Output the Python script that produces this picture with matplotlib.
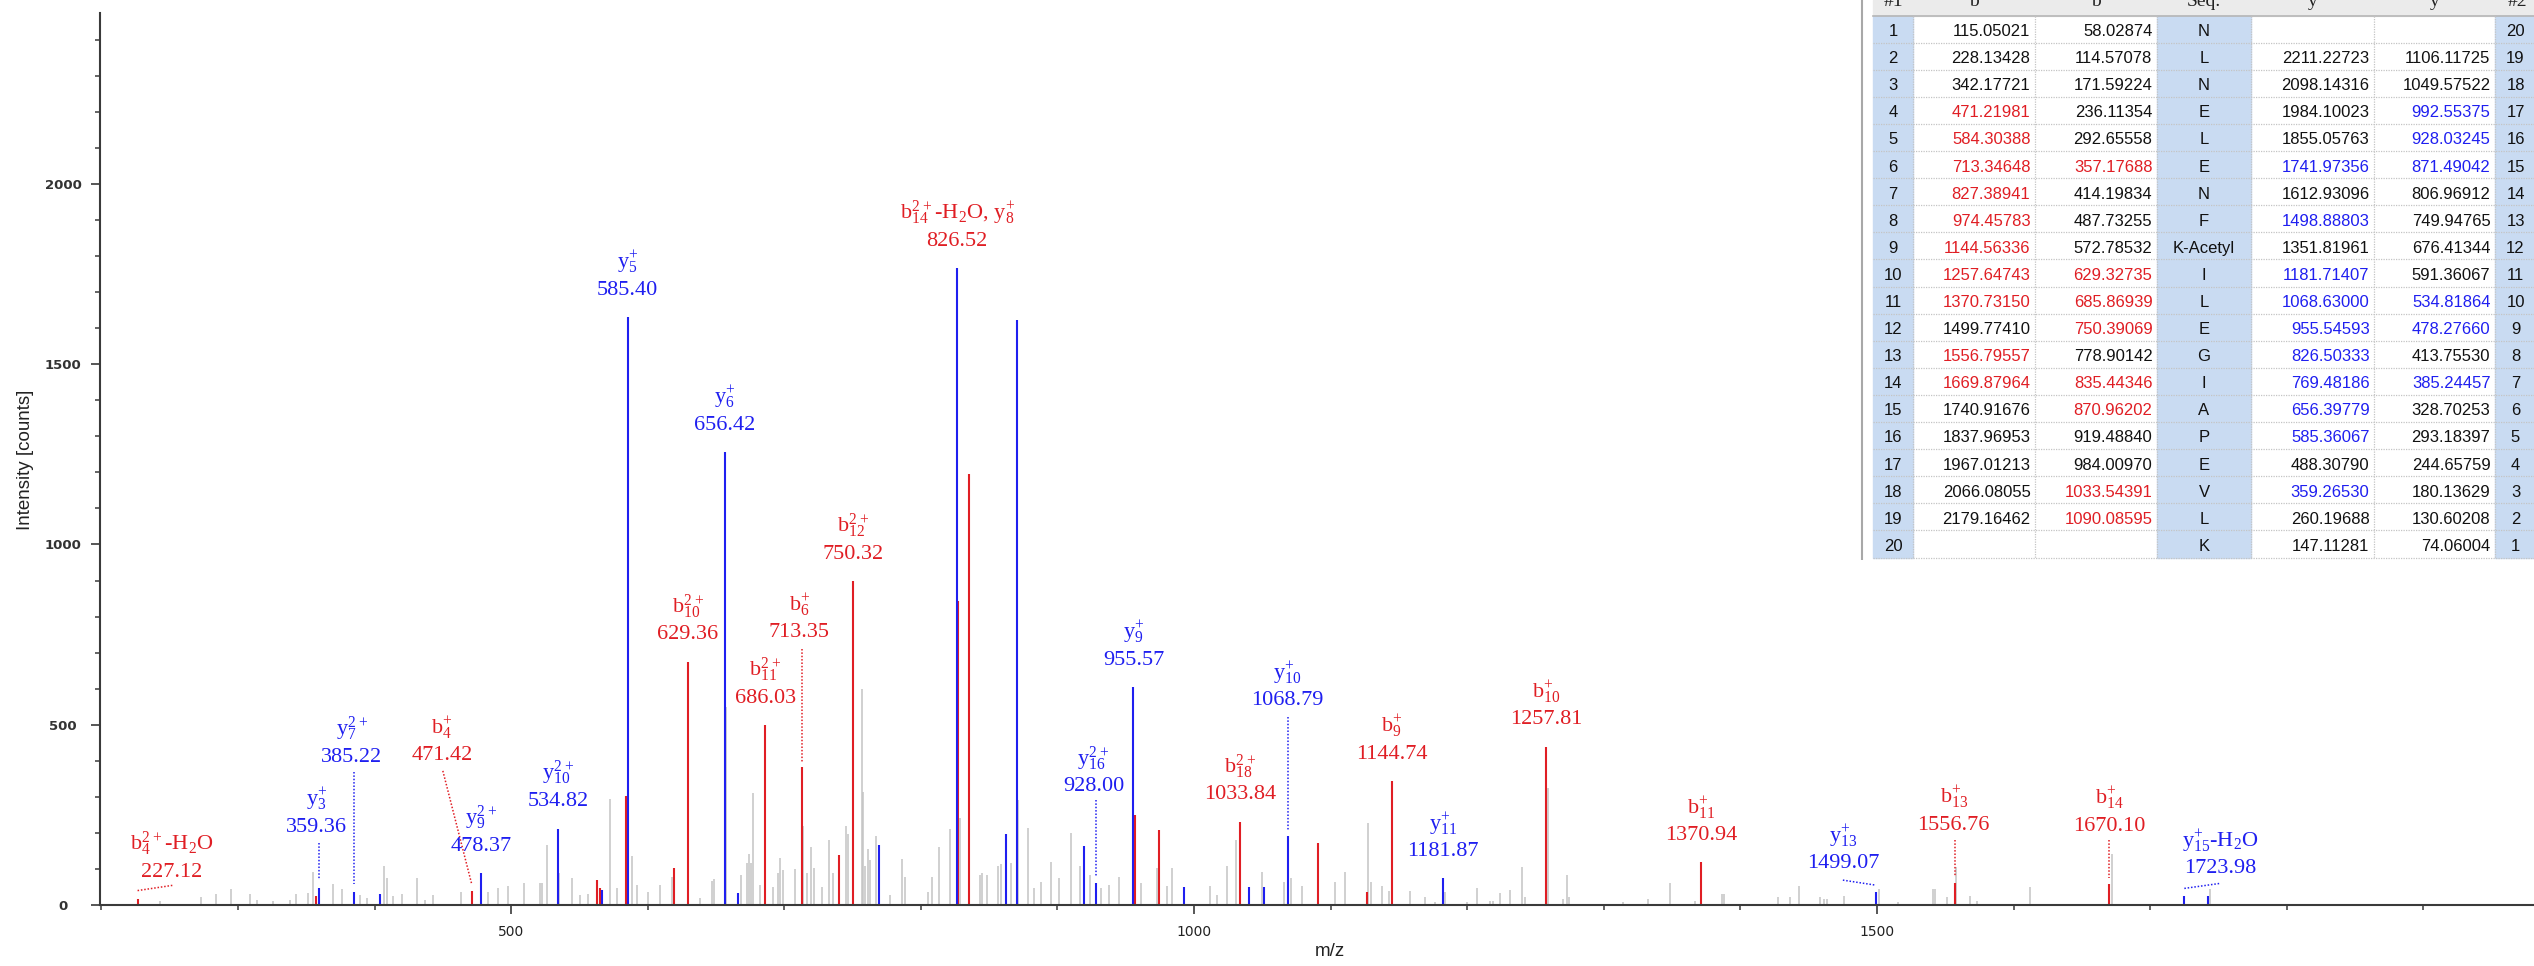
import matplotlib
matplotlib.use("Agg")
import matplotlib.pyplot as plt
from matplotlib import font_manager
from matplotlib.ticker import MultipleLocator

W, H = 2534, 966

# unmatched (grey) peaks: m/z and intensity
gray_mz = [242.6, 273.1, 283.8, 295.0, 308.9, 313.7, 326.0, 338.2, 342.6, 351.6, 355.3, 369.5,
           376.3, 389.5, 394.4, 407.0, 409.0, 413.8, 420.0, 431.0, 437.2, 443.1, 463.4, 483.4,
           490.7, 498.0, 509.5, 521.2, 522.4, 526.1, 535.4, 544.4, 550.5, 556.6, 572.5, 577.4,
           585.9, 588.4, 592.0, 600.5, 609.1, 617.6, 629.8, 638.3, 646.9, 648.6, 657.2, 668.4,
           672.5, 673.8, 675.5, 677.0, 682.3, 692.0, 695.7, 697.0, 699.0, 708.1, 713.5, 716.5,
           719.4, 721.8, 727.5, 732.6, 736.0, 745.2, 746.9, 750.6, 756.7, 757.4, 759.0, 761.6,
           762.8, 767.0, 777.5, 786.0, 788.5, 805.5, 808.0, 813.6, 821.4, 828.3, 843.3, 844.6,
           848.3, 856.3, 858.7, 865.8, 871.4, 878.7, 883.1, 887.8, 895.3, 901.4, 909.7, 916.5,
           923.8, 932.0, 937.4, 945.4, 960.8, 972.7, 980.0, 983.5, 1011.7, 1017.0, 1024.4, 1030.5,
           1050.0, 1065.9, 1071.0, 1079.0, 1103.2, 1110.5, 1127.6, 1129.3, 1137.4, 1143.0, 1158.0,
           1169.1, 1176.4, 1183.8, 1199.6, 1206.9, 1216.7, 1219.1, 1224.0, 1231.3, 1240.4, 1242.1,
           1258.9, 1270.3, 1272.8, 1274.3, 1314.3, 1332.1, 1348.4, 1366.7, 1386.3, 1388.0, 1427.3,
           1436.3, 1443.1, 1458.3, 1461.2, 1463.1, 1475.8, 1501.6, 1515.2, 1541.1, 1542.6, 1551.5,
           1558.1, 1567.8, 1573.5, 1611.8, 1672.0, 1743.8]
gray_int = [12, 21, 30, 44, 30, 15, 12, 15, 30, 32, 92, 57,
            43, 28, 20, 109, 74, 25, 30, 74, 15, 28, 35, 35,
            48, 53, 62, 60, 62, 166, 88, 74, 28, 30, 293, 46,
            553, 136, 55, 37, 55, 78, 117, 19, 67, 71, 550, 83,
            117, 141, 117, 312, 55, 50, 88, 130, 97, 99, 219, 88,
            162, 102, 50, 180, 88, 219, 198, 694, 598, 314, 107, 155,
            125, 191, 28, 127, 78, 37, 78, 162, 210, 240, 82, 88,
            83, 107, 113, 117, 292, 214, 48, 64, 120, 76, 200, 108,
            82, 48, 55, 77, 61, 102, 52, 102, 52, 29, 107, 180,
            92, 64, 76, 52, 64, 92, 228, 64, 52, 38, 40,
            21, 9, 37, 7, 46, 10, 12, 34, 42, 105, 21,
            324, 16, 83, 21, 7, 16, 60, 12, 30, 30, 21,
            21, 53, 21, 16, 16, 25, 43, 7, 43, 45, 21,
            106, 26, 12, 49, 141, 43]

# matched b ions (red) and y ions (blue)
b_mz = [227.1, 357.0, 471.0, 563.0, 565.4, 584.3, 619.6, 629.4, 686.0, 713.3, 740.4, 750.3,
        827.5, 835.4, 956.8, 974.6, 1033.8, 1090.5, 1126.6, 1144.7, 1257.8, 1371.0, 1556.8, 1670.1]
b_int = [17, 26, 39, 69, 48, 302, 104, 675, 499, 382, 140, 899,
         843, 1195, 249, 208, 231, 172, 35, 344, 439, 118, 60, 57]
y_mz = [359.4, 384.9, 404.1, 478.0, 534.3, 566.4, 585.4, 656.4, 666.4, 769.6, 826.5, 862.4,
        870.6, 919.1, 928.0, 955.6, 992.3, 1040.5, 1051.0, 1068.8, 1182.0, 1499.1, 1725.0, 1742.0]
y_int = [48, 35, 30, 88, 212, 42, 1631, 1257, 33, 166, 1767, 197,
         1623, 165, 60, 604, 50, 50, 50, 190, 74, 35, 26, 26]

# peak labels
label_mz = [227.1, 359.4, 384.9, 471.0, 478.0, 534.3, 585.4, 629.4, 656.4, 686.0, 713.3, 750.3,
            826.5, 928.0, 955.6, 1033.8, 1068.8, 1144.7, 1182.0, 1257.8, 1371.0, 1499.1, 1556.8,
            1670.1, 1725.0]
label_value = ['227.12', '359.36', '385.22', '471.42', '478.37', '534.82', '585.40', '629.36',
               '656.42', '686.03', '713.35', '750.32', '826.52', '928.00', '955.57', '1033.84',
               '1068.79', '1144.74', '1181.87', '1257.81', '1370.94', '1499.07', '1556.76',
               '1670.10', '1723.98']
label_ion = [r'$\mathregular{b_{4}^{2+}}$-H$_\mathregular{2}$O', r'$\mathregular{y_{3}^{+}}$',
             r'$\mathregular{y_{7}^{2+}}$', r'$\mathregular{b_{4}^{+}}$', r'$\mathregular{y_{9}^{2+}}$',
             r'$\mathregular{y_{10}^{2+}}$', r'$\mathregular{y_{5}^{+}}$', r'$\mathregular{b_{10}^{2+}}$',
             r'$\mathregular{y_{6}^{+}}$', r'$\mathregular{b_{11}^{2+}}$', r'$\mathregular{b_{6}^{+}}$',
             r'$\mathregular{b_{12}^{2+}}$',
             r'$\mathregular{b_{14}^{2+}}$-H$_\mathregular{2}$O, $\mathregular{y_{8}^{+}}$',
             r'$\mathregular{y_{16}^{2+}}$', r'$\mathregular{y_{9}^{+}}$', r'$\mathregular{b_{18}^{2+}}$',
             r'$\mathregular{y_{10}^{+}}$', r'$\mathregular{b_{9}^{+}}$', r'$\mathregular{y_{11}^{+}}$',
             r'$\mathregular{b_{10}^{+}}$', r'$\mathregular{b_{11}^{+}}$', r'$\mathregular{y_{13}^{+}}$',
             r'$\mathregular{b_{13}^{+}}$', r'$\mathregular{b_{14}^{+}}$',
             r'$\mathregular{y_{15}^{+}}$-H$_\mathregular{2}$O']
label_kind = ['b', 'y', 'y', 'b', 'y', 'y', 'y', 'b', 'y', 'b', 'b', 'b', 'b', 'y', 'y', 'b',
              'y', 'b', 'y', 'b', 'b', 'y', 'b', 'b', 'y']

# fragment table
row_no = list(range(1, 21))
seq = ['N', 'L', 'N', 'E', 'L', 'E', 'N', 'F', 'K-Acetyl', 'I', 'L', 'E', 'G', 'I', 'A', 'P',
       'E', 'V', 'L', 'K']
b1 = ['115.05021', '228.13428', '342.17721', '471.21981', '584.30388', '713.34648', '827.38941',
      '974.45783', '1144.56336', '1257.64743', '1370.73150', '1499.77410', '1556.79557',
      '1669.87964', '1740.91676', '1837.96953', '1967.01213', '2066.08055', '2179.16462', '']
b2 = ['58.02874', '114.57078', '171.59224', '236.11354', '292.65558', '357.17688', '414.19834',
      '487.73255', '572.78532', '629.32735', '685.86939', '750.39069', '778.90142', '835.44346',
      '870.96202', '919.48840', '984.00970', '1033.54391', '1090.08595', '']
y1 = ['', '2211.22723', '2098.14316', '1984.10023', '1855.05763', '1741.97356', '1612.93096',
      '1498.88803', '1351.81961', '1181.71407', '1068.63000', '955.54593', '826.50333',
      '769.48186', '656.39779', '585.36067', '488.30790', '359.26530', '260.19688', '147.11281']
y2 = ['', '1106.11725', '1049.57522', '992.55375', '928.03245', '871.49042', '806.96912',
      '749.94765', '676.41344', '591.36067', '534.81864', '478.27660', '413.75530', '385.24457',
      '328.70253', '293.18397', '244.65759', '180.13629', '130.60208', '74.06004']
b1_hit = [4, 5, 6, 7, 8, 9, 10, 11, 13, 14]
b2_hit = [6, 10, 11, 12, 14, 15, 18, 19]
y1_hit = [6, 8, 10, 11, 12, 13, 14, 15, 16, 18]
y2_hit = [4, 5, 6, 11, 12, 14]

RED = '#e01e24'
BLUE = '#1f1ff0'
GREY = '#c3c3c3'

installed = {f.name for f in font_manager.fontManager.ttflist}
NARROW = 'Liberation Sans Narrow' if 'Liberation Sans Narrow' in installed else 'Liberation Sans'
TABLE_FS = 14.5 if NARROW == 'Liberation Sans Narrow' else 12
SERIF = 'Liberation Serif'
plt.rcParams['mathtext.fontset'] = 'custom'
plt.rcParams['mathtext.rm'] = SERIF

fig = plt.figure(figsize=(W / 100, H / 100), dpi=100)
ax = fig.add_axes([100 / W, 61 / H, (W - 100) / W, 892 / H])

ax.vlines(gray_mz, 0, gray_int, color=GREY, lw=1.1, zorder=1)
ax.vlines(b_mz, 0, b_int, color=RED, lw=1.5, zorder=2)
ax.vlines(y_mz, 0, y_int, color=BLUE, lw=1.5, zorder=2)

ax.set_xlim(199, 1981)
ax.set_ylim(0, 2474)
for s in ['top', 'right']:
    ax.spines[s].set_visible(False)
for s in ['left', 'bottom']:
    ax.spines[s].set_color('#3a3a3a')
    ax.spines[s].set_linewidth(1.5)
ax.xaxis.set_major_locator(MultipleLocator(500))
ax.xaxis.set_minor_locator(MultipleLocator(100))
ax.yaxis.set_major_locator(MultipleLocator(500))
ax.yaxis.set_minor_locator(MultipleLocator(100))
ax.tick_params(axis='both', which='major', length=6.5, width=1.2, color='#3a3a3a',
               labelsize=10, labelcolor='#222222')
ax.tick_params(axis='both', which='minor', length=3.5, width=1.1, color='#3a3a3a')
ax.tick_params(axis='x', which='major', pad=8)
ax.tick_params(axis='y', which='major', pad=20, labelsize=9.5)
for t in ax.get_yticklabels():
    t.set_horizontalalignment('center')
    t.set_fontweight('bold')
    t.set_color('#333333')

fig.text(25 / W, 1 - 460 / H, 'Intensity [counts]', rotation=90, ha='center', va='center',
         family=NARROW, fontsize=13.5, color='#222222')
fig.text(1330 / W, 1 - 952 / H, 'm/z', ha='center', va='center', family=NARROW,
         fontsize=13.5, color='#222222')

# labels that were moved away from their peak, with a dotted leader
moved = {
    '227.12': ((251.6, 79), (226.5, 40), (253.0, 55)),
    '359.36': ((357.8, 203), (359.4, 171), (359.4, 69)),
    '385.22': ((383.4, 398), (384.9, 370), (384.9, 58)),
    '471.42': ((449.3, 402), (450.0, 372), (471.0, 60)),
    '713.35': ((711.0, 742), (713.3, 711), (713.3, 397)),
    '928.00': ((926.3, 315), (928.0, 290), (928.0, 80)),
    '1068.79': ((1068.3, 554), (1068.8, 522), (1068.8, 208)),
    '1499.07': ((1475.3, 102), (1475.0, 69), (1499.1, 55)),
    '1556.76': ((1556.2, 208), (1556.8, 180), (1556.8, 79)),
    '1670.10': ((1670.1, 206), (1670.1, 180), (1670.1, 74)),
    '1723.98': ((1751.3, 88), (1725.0, 46), (1751.3, 60)),
}

all_mz = b_mz + y_mz
all_int = b_int + y_int
for mz, val, ion, kind in zip(label_mz, label_value, label_ion, label_kind):
    col = RED if kind == 'b' else BLUE
    if val in moved:
        (lx, ly), p0, p1 = moved[val]
        ax.plot([p0[0], p1[0]], [p0[1], p1[1]], color=col, lw=1.1, ls=(0, (1, 1.2)), zorder=3)
        dy = 0
    else:
        top = max(i for m, i in zip(all_mz, all_int) if abs(m - mz) < 1.0)
        lx, ly = mz, top
        dy = 16
    ax.annotate(val, (lx, ly), xytext=(0, dy), textcoords='offset points', ha='center',
                va='baseline', color=col, fontsize=16, family=SERIF, zorder=4)
    ax.annotate(ion, (lx, ly), xytext=(0, dy + 19.5), textcoords='offset points', ha='center',
                va='baseline', color=col, fontsize=16, family=SERIF, zorder=4)

# fragment table in the top-right corner (pixel coordinates)
tax = fig.add_axes([1860 / W, 1 - 560 / H, (W - 1860) / W, 560 / H], zorder=5)
tax.set_xlim(1860, W)
tax.set_ylim(560, 0)
tax.axis('off')
tax.add_patch(plt.Rectangle((1862, 0), W - 1862, 559, color='white', zorder=0))
tax.plot([1862, 1862], [0, 560], color='#a8a8a8', lw=1.5)

cols = [1873, 1913, 2035, 2157, 2251, 2374, 2495, 2540]
head_h = 15.5
row_h = 27.1
LBLUE = '#c9dbf2'
tax.add_patch(plt.Rectangle((cols[0], 0), cols[-1] - cols[0], head_h, color='#ebebeb', zorder=1))
tax.plot([cols[0], cols[-1]], [head_h, head_h], color='#b5b5b5', lw=1.2, zorder=2)
for i, h in enumerate(['#1', 'b', 'b', 'Seq.', 'y', 'y', '#2']):
    tax.text((cols[i] + cols[i + 1]) / 2, 6, h, ha='center', va='baseline', family=SERIF,
             fontsize=14, color='#222222')

for r in range(20):
    top = head_h + r * row_h
    for c in (0, 3, 6):
        tax.add_patch(plt.Rectangle((cols[c], top), cols[c + 1] - cols[c], row_h, color=LBLUE,
                                    zorder=1))
    tax.plot([cols[0], cols[-1]], [top + row_h, top + row_h], color='#c4c4c4', lw=0.9,
             ls=(0, (1, 1)), zorder=2)
for c in cols[1:-1]:
    tax.plot([c, c], [head_h, head_h + 20 * row_h], color='#c4c4c4', lw=0.9, ls=(0, (1, 1)),
             zorder=2)

for r in range(20):
    base = head_h + r * row_h + 20.5
    n = row_no[r]
    tax.text((cols[0] + cols[1]) / 2, base, str(n), ha='center', va='baseline', family=NARROW,
             fontsize=TABLE_FS, color='#111111', zorder=3)
    tax.text((cols[6] + cols[7]) / 2 - 2, base, str(21 - n), ha='center', va='baseline',
             family=NARROW, fontsize=TABLE_FS, color='#111111', zorder=3)
    tax.text((cols[3] + cols[4]) / 2, base, seq[r], ha='center', va='baseline', family=NARROW,
             fontsize=TABLE_FS, color='#111111', zorder=3)
    for c, vals, hits, col in ((1, b1, b1_hit, RED), (2, b2, b2_hit, RED),
                               (4, y1, y1_hit, BLUE), (5, y2, y2_hit, BLUE)):
        tax.text(cols[c + 1] - 4.5, base, vals[r], ha='right', va='baseline', family=NARROW,
                 fontsize=TABLE_FS, color=col if n in hits else '#111111', zorder=3)

fig.savefig('out.png', dpi=100)
